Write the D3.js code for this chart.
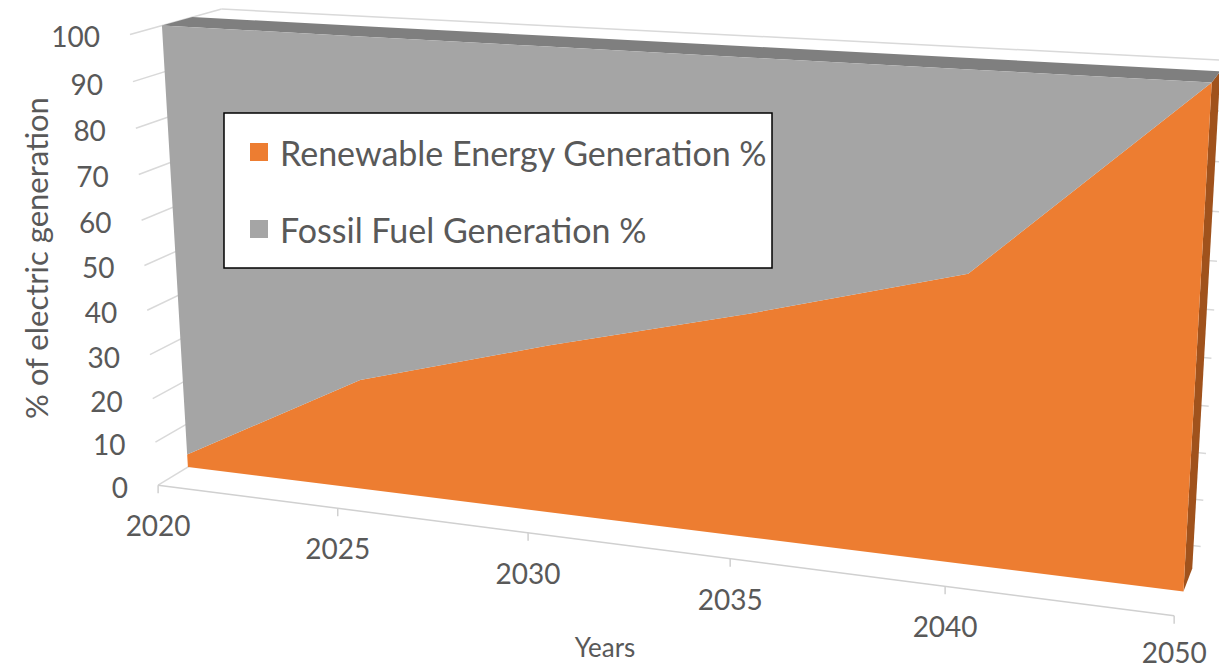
<!DOCTYPE html>
<html>
<head>
<meta charset="utf-8">
<script src="https://cdn.jsdelivr.net/npm/d3@7"></script>
<style>
  body { margin: 0; background: #fff; }
  text { font-family: Lato, "Liberation Sans", sans-serif; fill: #595959; }
</style>
</head>
<body>
<svg id="chart" width="1219" height="669"></svg>
<script>
// Data
var years = ['2020', '2025', '2030', '2035', '2040', '2050'];
var renewable = [3, 25, 37, 48, 60, 100];
var fossil = [97, 75, 63, 52, 40, 0];
var yTicks = [0, 10, 20, 30, 40, 50, 60, 70, 80, 90, 100];
var seriesNames = ['Renewable Energy Generation %', 'Fossil Fuel Generation %'];
var seriesColors = ['#ED7D31', '#A5A5A5'];
var sideColors = ['#A0521C', '#8A8A8A'];

var width = 1219, height = 669;
var svg = d3.select('#chart');

// world scales: category -> x (0..5), value -> y, depth slots 0..3
var xWorld = d3.scalePoint().domain(years).range([0, 5]);
var yWorld = d3.scaleLinear().domain([0, 100]).range([0, 5]);

// depth slots: 0 floor front, 1 area front, 2 area back, 3 back wall
// frame anchors on screen, used to fit a perspective camera
var anchors = [
  [0, 0, 0, 161, 484], [5, 0, 0, 1173, 615], [0, 100, 0, 130, 33],
  [1, 0, 0, 338, 509], [2, 0, 0, 528, 533], [3, 0, 0, 730, 560], [4, 0, 0, 945, 587],
  [0, 0, 1, 185, 467], [5, 0, 1, 1183, 593], [0, 100, 1, 161, 26], [5, 100, 1, 1213, 83],
  [0, 100, 2, 193, 17], [5, 100, 2, 1219, 71], [5, 0, 2, 1194, 566],
  [0, 100, 3, 222, 10]
];

// DLT fit of a 3x4 projection (p34 = 1)
function solve(M, b) {
  var n = b.length, A = M.map(function(r, i) { return r.concat([b[i]]); });
  for (var c = 0; c < n; c++) {
    var piv = c;
    for (var r = c + 1; r < n; r++) if (Math.abs(A[r][c]) > Math.abs(A[piv][c])) piv = r;
    var t = A[c]; A[c] = A[piv]; A[piv] = t;
    for (var r2 = 0; r2 < n; r2++) {
      if (r2 === c) continue;
      var f = A[r2][c] / A[c][c];
      for (var k = c; k <= n; k++) A[r2][k] -= f * A[c][k];
    }
  }
  return A.map(function(r, i) { return r[n] / r[i]; });
}

var rows = [], rhs = [];
anchors.forEach(function(a) {
  var X = a[0], Y = yWorld(a[1]), Z = a[2], u = a[3] / 1000, v = a[4] / 1000;
  rows.push([X, Y, Z, 1, 0, 0, 0, 0, -u * X, -u * Y, -u * Z]); rhs.push(u);
  rows.push([0, 0, 0, 0, X, Y, Z, 1, -v * X, -v * Y, -v * Z]); rhs.push(v);
});
var AtA = d3.range(11).map(function(i) {
  return d3.range(11).map(function(j) { return d3.sum(rows, function(r) { return r[i] * r[j]; }); });
});
var Atb = d3.range(11).map(function(i) { return d3.sum(rows, function(r, k) { return r[i] * rhs[k]; }); });
var P = solve(AtA, Atb);

function proj(x, val, z) {
  var y = yWorld(val);
  var w = P[8] * x + P[9] * y + P[10] * z + 1;
  return [1000 * (P[0] * x + P[1] * y + P[2] * z + P[3]) / w,
          1000 * (P[4] * x + P[5] * y + P[6] * z + P[7]) / w];
}

var line = d3.line();
function poly(pts) { return line(pts) + 'Z'; }

// Walls gridlines
var grid = svg.append('g').attr('fill', 'none').attr('stroke', '#D9D9D9').attr('stroke-width', 1.5);
yTicks.forEach(function(v) {
  grid.append('path').attr('d', line([proj(0, v, 0), proj(0, v, 3)]));
  grid.append('path').attr('d', line([proj(0, v, 3), proj(5, v, 3)]));
});

// Floor edge + ticks
var floor = svg.append('g').attr('fill', 'none').attr('stroke', '#D0D0D0').attr('stroke-width', 1.5);
floor.append('path').attr('d', line([proj(0, 0, 0), proj(5, 0, 0)]));

// Stacked areas
var table = years.map(function(y, i) { return {year: y, r: renewable[i], f: fossil[i]}; });
var stack = d3.stack().keys(['r', 'f'])(table);
var last = years.length - 1;

var area = svg.append('g');
stack.forEach(function(layer, k) {
  var s0 = layer[last][0], s1 = layer[last][1];
  if (s1 > s0) {
    area.append('path')
      .attr('d', poly([proj(5, s0, 1), proj(5, s1, 1), proj(5, s1, 2), proj(5, s0, 2)]))
      .attr('fill', sideColors[k]);
  }
});
// top surface of the stack
var topLayer = stack[stack.length - 1];
var topFront = topLayer.map(function(d) { return proj(xWorld(d.data.year), d[1], 1); });
var topBack = topLayer.map(function(d) { return proj(xWorld(d.data.year), d[1], 2); }).reverse();
area.append('path').attr('d', poly(topFront.concat(topBack))).attr('fill', '#7F7F7F');

stack.forEach(function(layer, k) {
  var upper = layer.map(function(d) { return proj(xWorld(d.data.year), d[1], 1); });
  var lower = layer.map(function(d) { return proj(xWorld(d.data.year), d[0], 1); }).reverse();
  area.append('path').attr('d', poly(upper.concat(lower))).attr('fill', seriesColors[k]);
});

// Category ticks and labels
years.forEach(function(y) {
  var p = proj(xWorld(y), 0, 0);
  floor.append('path').attr('d', line([p, [p[0], p[1] + 8]]));
  svg.append('text')
    .attr('x', p[0]).attr('y', Math.min(p[1] + 40, 652))
    .attr('text-anchor', 'middle').attr('dominant-baseline', 'central')
    .style('font-size', '28px').text(y);
});

// Value labels
yTicks.forEach(function(v) {
  var p = proj(0, v, 0);
  svg.append('text')
    .attr('x', p[0] - 30).attr('y', p[1] + 2)
    .attr('text-anchor', 'end').attr('dominant-baseline', 'central')
    .style('font-size', '28px').text(v);
});

// Axis titles
svg.append('text')
  .attr('transform', 'translate(36,258) rotate(-90)')
  .attr('text-anchor', 'middle').attr('dominant-baseline', 'central')
  .style('font-size', '31px').text('% of electric generation');
svg.append('text')
  .attr('x', 605).attr('y', 647)
  .attr('text-anchor', 'middle').attr('dominant-baseline', 'central')
  .style('font-size', '26px').text('Years');

// Legend
var legend = svg.append('g');
legend.append('rect')
  .attr('x', 224).attr('y', 113).attr('width', 548).attr('height', 155)
  .attr('fill', '#fff').attr('stroke', '#000').attr('stroke-width', 1.5);
seriesNames.forEach(function(name, i) {
  var cy = 152 + i * 77;
  legend.append('rect')
    .attr('x', 250).attr('y', cy - 9).attr('width', 18).attr('height', 18)
    .attr('fill', seriesColors[i]);
  legend.append('text')
    .attr('x', 280).attr('y', cy)
    .attr('dominant-baseline', 'central')
    .style('font-size', '34px').text(name);
});
</script>
</body>
</html>
